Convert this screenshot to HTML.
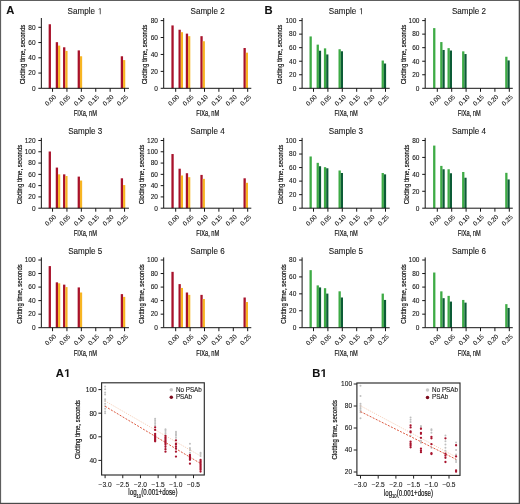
<!DOCTYPE html>
<html><head><meta charset="utf-8"><style>
html,body{margin:0;padding:0;background:#fff;}
#w{position:relative;width:520px;height:504px;overflow:hidden;background:#fff;}
svg{position:absolute;left:0;top:0;font-family:"Liberation Sans", sans-serif;filter:blur(0.3px);}
.cd{stroke:#151515;stroke-width:0.2px;}
text{stroke:#151515;stroke-width:0.1px;}
</style></head><body><div id="w">
<svg width="520" height="504" viewBox="0 0 520 504">
<rect x="0" y="0" width="520" height="504" fill="#fff"/>
<rect x="48.65" y="24.25" width="2.3" height="64.05" fill="#a8112a"/>
<rect x="55.75" y="42.17" width="2.3" height="46.13" fill="#a8112a"/>
<rect x="58.05" y="45.60" width="2.2" height="42.70" fill="#f7b523"/>
<rect x="63.05" y="47.28" width="2.3" height="41.02" fill="#a8112a"/>
<rect x="65.35" y="50.94" width="2.2" height="37.36" fill="#f7b523"/>
<rect x="77.65" y="50.40" width="2.3" height="37.90" fill="#a8112a"/>
<rect x="79.95" y="56.27" width="2.2" height="32.02" fill="#f7b523"/>
<rect x="120.75" y="56.27" width="2.3" height="32.02" fill="#a8112a"/>
<rect x="123.05" y="60.09" width="2.2" height="28.21" fill="#f7b523"/>
<path d="M41.35 18.00V88.30H128.95" fill="none" stroke="#151515" stroke-width="1"/>
<path d="M38.35 88.30H41.35" stroke="#151515" stroke-width="1"/>
<text x="35.55" y="90.60" text-anchor="end" font-size="6.5" fill="#151515">0</text>
<path d="M38.35 73.05H41.35" stroke="#151515" stroke-width="1"/>
<text x="35.55" y="75.35" text-anchor="end" font-size="6.5" fill="#151515">20</text>
<path d="M38.35 57.80H41.35" stroke="#151515" stroke-width="1"/>
<text x="35.55" y="60.10" text-anchor="end" font-size="6.5" fill="#151515">40</text>
<path d="M38.35 42.55H41.35" stroke="#151515" stroke-width="1"/>
<text x="35.55" y="44.85" text-anchor="end" font-size="6.5" fill="#151515">60</text>
<path d="M38.35 27.30H41.35" stroke="#151515" stroke-width="1"/>
<text x="35.55" y="29.60" text-anchor="end" font-size="6.5" fill="#151515">80</text>
<path d="M52.55 88.30V91.80" stroke="#151515" stroke-width="1"/>
<text transform="translate(54.85 96.00) rotate(-45)" text-anchor="end" font-size="6.4" fill="#151515" dy="2.2">0.00</text>
<path d="M66.95 88.30V91.80" stroke="#151515" stroke-width="1"/>
<text transform="translate(69.25 96.00) rotate(-45)" text-anchor="end" font-size="6.4" fill="#151515" dy="2.2">0.05</text>
<path d="M81.35 88.30V91.80" stroke="#151515" stroke-width="1"/>
<text transform="translate(83.65 96.00) rotate(-45)" text-anchor="end" font-size="6.4" fill="#151515" dy="2.2">0.10</text>
<path d="M95.75 88.30V91.80" stroke="#151515" stroke-width="1"/>
<text transform="translate(98.05 96.00) rotate(-45)" text-anchor="end" font-size="6.4" fill="#151515" dy="2.2">0.15</text>
<path d="M110.15 88.30V91.80" stroke="#151515" stroke-width="1"/>
<text transform="translate(112.45 96.00) rotate(-45)" text-anchor="end" font-size="6.4" fill="#151515" dy="2.2">0.20</text>
<path d="M124.55 88.30V91.80" stroke="#151515" stroke-width="1"/>
<text transform="translate(126.85 96.00) rotate(-45)" text-anchor="end" font-size="6.4" fill="#151515" dy="2.2">0.25</text>
<text transform="translate(67.55 14.20) scale(0.92 1)" font-size="8.8" fill="#151515">Sample </text><path d="M99.84 14.20L99.84 8.88L98.58 9.86L98.58 9.13L99.90 8.15L100.55 8.15L100.55 14.20Z" fill="#151515"/>
<text transform="translate(85.35 116.20) scale(0.67 1)" class="cd" text-anchor="middle" font-size="8.5" fill="#151515">FIXa, nM</text>
<text transform="translate(22.70 54.50) rotate(-90) scale(0.82 1)" class="cd" text-anchor="middle" dy="2.5" font-size="7.4" fill="#151515">Clotting time, seconds</text>
<rect x="171.40" y="25.42" width="2.3" height="62.88" fill="#a8112a"/>
<rect x="178.50" y="29.74" width="2.3" height="58.56" fill="#a8112a"/>
<rect x="180.80" y="32.19" width="2.2" height="56.11" fill="#f7b523"/>
<rect x="185.80" y="33.63" width="2.3" height="54.67" fill="#a8112a"/>
<rect x="188.10" y="36.17" width="2.2" height="52.13" fill="#f7b523"/>
<rect x="200.40" y="36.17" width="2.3" height="52.13" fill="#a8112a"/>
<rect x="202.70" y="41.25" width="2.2" height="47.05" fill="#f7b523"/>
<rect x="243.50" y="48.02" width="2.3" height="40.28" fill="#a8112a"/>
<rect x="245.80" y="52.67" width="2.2" height="35.63" fill="#f7b523"/>
<path d="M163.70 18.00V88.30H251.30" fill="none" stroke="#151515" stroke-width="1"/>
<path d="M160.70 88.30H163.70" stroke="#151515" stroke-width="1"/>
<text x="157.90" y="90.60" text-anchor="end" font-size="6.5" fill="#151515">0</text>
<path d="M160.70 71.38H163.70" stroke="#151515" stroke-width="1"/>
<text x="157.90" y="73.67" text-anchor="end" font-size="6.5" fill="#151515">20</text>
<path d="M160.70 54.45H163.70" stroke="#151515" stroke-width="1"/>
<text x="157.90" y="56.75" text-anchor="end" font-size="6.5" fill="#151515">40</text>
<path d="M160.70 37.52H163.70" stroke="#151515" stroke-width="1"/>
<text x="157.90" y="39.82" text-anchor="end" font-size="6.5" fill="#151515">60</text>
<path d="M160.70 20.60H163.70" stroke="#151515" stroke-width="1"/>
<text x="157.90" y="22.90" text-anchor="end" font-size="6.5" fill="#151515">80</text>
<path d="M175.70 88.30V91.80" stroke="#151515" stroke-width="1"/>
<text transform="translate(178.00 96.00) rotate(-45)" text-anchor="end" font-size="6.4" fill="#151515" dy="2.2">0.00</text>
<path d="M190.10 88.30V91.80" stroke="#151515" stroke-width="1"/>
<text transform="translate(192.40 96.00) rotate(-45)" text-anchor="end" font-size="6.4" fill="#151515" dy="2.2">0.05</text>
<path d="M204.50 88.30V91.80" stroke="#151515" stroke-width="1"/>
<text transform="translate(206.80 96.00) rotate(-45)" text-anchor="end" font-size="6.4" fill="#151515" dy="2.2">0.10</text>
<path d="M218.90 88.30V91.80" stroke="#151515" stroke-width="1"/>
<text transform="translate(221.20 96.00) rotate(-45)" text-anchor="end" font-size="6.4" fill="#151515" dy="2.2">0.15</text>
<path d="M233.30 88.30V91.80" stroke="#151515" stroke-width="1"/>
<text transform="translate(235.60 96.00) rotate(-45)" text-anchor="end" font-size="6.4" fill="#151515" dy="2.2">0.20</text>
<path d="M247.70 88.30V91.80" stroke="#151515" stroke-width="1"/>
<text transform="translate(250.00 96.00) rotate(-45)" text-anchor="end" font-size="6.4" fill="#151515" dy="2.2">0.25</text>
<text transform="translate(190.50 14.20) scale(0.92 1)" font-size="8.8" fill="#151515">Sample 2</text>
<text transform="translate(207.70 116.20) scale(0.67 1)" class="cd" text-anchor="middle" font-size="8.5" fill="#151515">FIXa, nM</text>
<text transform="translate(144.70 54.50) rotate(-90) scale(0.82 1)" class="cd" text-anchor="middle" dy="2.5" font-size="7.4" fill="#151515">Clotting time, seconds</text>
<rect x="48.65" y="151.50" width="2.3" height="56.70" fill="#a8112a"/>
<rect x="55.75" y="167.58" width="2.3" height="40.62" fill="#a8112a"/>
<rect x="58.05" y="174.35" width="2.2" height="33.85" fill="#f7b523"/>
<rect x="63.05" y="174.35" width="2.3" height="33.85" fill="#a8112a"/>
<rect x="65.35" y="176.04" width="2.2" height="32.16" fill="#f7b523"/>
<rect x="77.65" y="176.61" width="2.3" height="31.59" fill="#a8112a"/>
<rect x="79.95" y="180.56" width="2.2" height="27.64" fill="#f7b523"/>
<rect x="120.75" y="178.30" width="2.3" height="29.90" fill="#a8112a"/>
<rect x="123.05" y="185.07" width="2.2" height="23.13" fill="#f7b523"/>
<path d="M41.35 137.90V208.20H128.95" fill="none" stroke="#151515" stroke-width="1"/>
<path d="M38.35 208.20H41.35" stroke="#151515" stroke-width="1"/>
<text x="35.55" y="210.50" text-anchor="end" font-size="6.5" fill="#151515">0</text>
<path d="M38.35 196.92H41.35" stroke="#151515" stroke-width="1"/>
<text x="35.55" y="199.22" text-anchor="end" font-size="6.5" fill="#151515">20</text>
<path d="M38.35 185.63H41.35" stroke="#151515" stroke-width="1"/>
<text x="35.55" y="187.93" text-anchor="end" font-size="6.5" fill="#151515">40</text>
<path d="M38.35 174.35H41.35" stroke="#151515" stroke-width="1"/>
<text x="35.55" y="176.65" text-anchor="end" font-size="6.5" fill="#151515">60</text>
<path d="M38.35 163.07H41.35" stroke="#151515" stroke-width="1"/>
<text x="35.55" y="165.37" text-anchor="end" font-size="6.5" fill="#151515">80</text>
<path d="M38.35 151.78H41.35" stroke="#151515" stroke-width="1"/>
<text x="35.55" y="154.08" text-anchor="end" font-size="6.5" fill="#151515">100</text>
<path d="M38.35 140.50H41.35" stroke="#151515" stroke-width="1"/>
<text x="35.55" y="142.80" text-anchor="end" font-size="6.5" fill="#151515">120</text>
<path d="M52.55 208.20V211.70" stroke="#151515" stroke-width="1"/>
<text transform="translate(54.85 215.90) rotate(-45)" text-anchor="end" font-size="6.4" fill="#151515" dy="2.2">0.00</text>
<path d="M66.95 208.20V211.70" stroke="#151515" stroke-width="1"/>
<text transform="translate(69.25 215.90) rotate(-45)" text-anchor="end" font-size="6.4" fill="#151515" dy="2.2">0.05</text>
<path d="M81.35 208.20V211.70" stroke="#151515" stroke-width="1"/>
<text transform="translate(83.65 215.90) rotate(-45)" text-anchor="end" font-size="6.4" fill="#151515" dy="2.2">0.10</text>
<path d="M95.75 208.20V211.70" stroke="#151515" stroke-width="1"/>
<text transform="translate(98.05 215.90) rotate(-45)" text-anchor="end" font-size="6.4" fill="#151515" dy="2.2">0.15</text>
<path d="M110.15 208.20V211.70" stroke="#151515" stroke-width="1"/>
<text transform="translate(112.45 215.90) rotate(-45)" text-anchor="end" font-size="6.4" fill="#151515" dy="2.2">0.20</text>
<path d="M124.55 208.20V211.70" stroke="#151515" stroke-width="1"/>
<text transform="translate(126.85 215.90) rotate(-45)" text-anchor="end" font-size="6.4" fill="#151515" dy="2.2">0.25</text>
<text transform="translate(68.15 134.10) scale(0.92 1)" font-size="8.8" fill="#151515">Sample 3</text>
<text transform="translate(85.35 236.10) scale(0.67 1)" class="cd" text-anchor="middle" font-size="8.5" fill="#151515">FIXa, nM</text>
<text transform="translate(19.00 174.40) rotate(-90) scale(0.82 1)" class="cd" text-anchor="middle" dy="2.5" font-size="7.4" fill="#151515">Clotting time, seconds</text>
<rect x="171.40" y="154.04" width="2.3" height="54.16" fill="#a8112a"/>
<rect x="178.50" y="168.71" width="2.3" height="39.49" fill="#a8112a"/>
<rect x="180.80" y="175.48" width="2.2" height="32.72" fill="#f7b523"/>
<rect x="185.80" y="173.22" width="2.3" height="34.98" fill="#a8112a"/>
<rect x="188.10" y="177.17" width="2.2" height="31.03" fill="#f7b523"/>
<rect x="200.40" y="174.91" width="2.3" height="33.29" fill="#a8112a"/>
<rect x="202.70" y="178.86" width="2.2" height="29.34" fill="#f7b523"/>
<rect x="243.50" y="178.30" width="2.3" height="29.90" fill="#a8112a"/>
<rect x="245.80" y="182.81" width="2.2" height="25.39" fill="#f7b523"/>
<path d="M163.70 137.90V208.20H251.30" fill="none" stroke="#151515" stroke-width="1"/>
<path d="M160.70 208.20H163.70" stroke="#151515" stroke-width="1"/>
<text x="157.90" y="210.50" text-anchor="end" font-size="6.5" fill="#151515">0</text>
<path d="M160.70 196.92H163.70" stroke="#151515" stroke-width="1"/>
<text x="157.90" y="199.22" text-anchor="end" font-size="6.5" fill="#151515">20</text>
<path d="M160.70 185.63H163.70" stroke="#151515" stroke-width="1"/>
<text x="157.90" y="187.93" text-anchor="end" font-size="6.5" fill="#151515">40</text>
<path d="M160.70 174.35H163.70" stroke="#151515" stroke-width="1"/>
<text x="157.90" y="176.65" text-anchor="end" font-size="6.5" fill="#151515">60</text>
<path d="M160.70 163.07H163.70" stroke="#151515" stroke-width="1"/>
<text x="157.90" y="165.37" text-anchor="end" font-size="6.5" fill="#151515">80</text>
<path d="M160.70 151.78H163.70" stroke="#151515" stroke-width="1"/>
<text x="157.90" y="154.08" text-anchor="end" font-size="6.5" fill="#151515">100</text>
<path d="M160.70 140.50H163.70" stroke="#151515" stroke-width="1"/>
<text x="157.90" y="142.80" text-anchor="end" font-size="6.5" fill="#151515">120</text>
<path d="M175.70 208.20V211.70" stroke="#151515" stroke-width="1"/>
<text transform="translate(178.00 215.90) rotate(-45)" text-anchor="end" font-size="6.4" fill="#151515" dy="2.2">0.00</text>
<path d="M190.10 208.20V211.70" stroke="#151515" stroke-width="1"/>
<text transform="translate(192.40 215.90) rotate(-45)" text-anchor="end" font-size="6.4" fill="#151515" dy="2.2">0.05</text>
<path d="M204.50 208.20V211.70" stroke="#151515" stroke-width="1"/>
<text transform="translate(206.80 215.90) rotate(-45)" text-anchor="end" font-size="6.4" fill="#151515" dy="2.2">0.10</text>
<path d="M218.90 208.20V211.70" stroke="#151515" stroke-width="1"/>
<text transform="translate(221.20 215.90) rotate(-45)" text-anchor="end" font-size="6.4" fill="#151515" dy="2.2">0.15</text>
<path d="M233.30 208.20V211.70" stroke="#151515" stroke-width="1"/>
<text transform="translate(235.60 215.90) rotate(-45)" text-anchor="end" font-size="6.4" fill="#151515" dy="2.2">0.20</text>
<path d="M247.70 208.20V211.70" stroke="#151515" stroke-width="1"/>
<text transform="translate(250.00 215.90) rotate(-45)" text-anchor="end" font-size="6.4" fill="#151515" dy="2.2">0.25</text>
<text transform="translate(190.50 134.10) scale(0.92 1)" font-size="8.8" fill="#151515">Sample 4</text>
<text transform="translate(207.70 236.10) scale(0.67 1)" class="cd" text-anchor="middle" font-size="8.5" fill="#151515">FIXa, nM</text>
<text transform="translate(141.50 174.40) rotate(-90) scale(0.82 1)" class="cd" text-anchor="middle" dy="2.5" font-size="7.4" fill="#151515">Clotting time, seconds</text>
<rect x="48.65" y="266.09" width="2.3" height="61.61" fill="#a8112a"/>
<rect x="55.75" y="282.34" width="2.3" height="45.36" fill="#a8112a"/>
<rect x="58.05" y="283.29" width="2.2" height="44.41" fill="#f7b523"/>
<rect x="63.05" y="284.64" width="2.3" height="43.06" fill="#a8112a"/>
<rect x="65.35" y="287.08" width="2.2" height="40.62" fill="#f7b523"/>
<rect x="77.65" y="287.42" width="2.3" height="40.28" fill="#a8112a"/>
<rect x="79.95" y="292.50" width="2.2" height="35.20" fill="#f7b523"/>
<rect x="120.75" y="294.12" width="2.3" height="33.58" fill="#a8112a"/>
<rect x="123.05" y="296.90" width="2.2" height="30.80" fill="#f7b523"/>
<path d="M41.35 257.40V327.70H128.95" fill="none" stroke="#151515" stroke-width="1"/>
<path d="M38.35 327.70H41.35" stroke="#151515" stroke-width="1"/>
<text x="35.55" y="330.00" text-anchor="end" font-size="6.5" fill="#151515">0</text>
<path d="M38.35 314.16H41.35" stroke="#151515" stroke-width="1"/>
<text x="35.55" y="316.46" text-anchor="end" font-size="6.5" fill="#151515">20</text>
<path d="M38.35 300.62H41.35" stroke="#151515" stroke-width="1"/>
<text x="35.55" y="302.92" text-anchor="end" font-size="6.5" fill="#151515">40</text>
<path d="M38.35 287.08H41.35" stroke="#151515" stroke-width="1"/>
<text x="35.55" y="289.38" text-anchor="end" font-size="6.5" fill="#151515">60</text>
<path d="M38.35 273.54H41.35" stroke="#151515" stroke-width="1"/>
<text x="35.55" y="275.84" text-anchor="end" font-size="6.5" fill="#151515">80</text>
<path d="M38.35 260.00H41.35" stroke="#151515" stroke-width="1"/>
<text x="35.55" y="262.30" text-anchor="end" font-size="6.5" fill="#151515">100</text>
<path d="M52.55 327.70V331.20" stroke="#151515" stroke-width="1"/>
<text transform="translate(54.85 335.40) rotate(-45)" text-anchor="end" font-size="6.4" fill="#151515" dy="2.2">0.00</text>
<path d="M66.95 327.70V331.20" stroke="#151515" stroke-width="1"/>
<text transform="translate(69.25 335.40) rotate(-45)" text-anchor="end" font-size="6.4" fill="#151515" dy="2.2">0.05</text>
<path d="M81.35 327.70V331.20" stroke="#151515" stroke-width="1"/>
<text transform="translate(83.65 335.40) rotate(-45)" text-anchor="end" font-size="6.4" fill="#151515" dy="2.2">0.10</text>
<path d="M95.75 327.70V331.20" stroke="#151515" stroke-width="1"/>
<text transform="translate(98.05 335.40) rotate(-45)" text-anchor="end" font-size="6.4" fill="#151515" dy="2.2">0.15</text>
<path d="M110.15 327.70V331.20" stroke="#151515" stroke-width="1"/>
<text transform="translate(112.45 335.40) rotate(-45)" text-anchor="end" font-size="6.4" fill="#151515" dy="2.2">0.20</text>
<path d="M124.55 327.70V331.20" stroke="#151515" stroke-width="1"/>
<text transform="translate(126.85 335.40) rotate(-45)" text-anchor="end" font-size="6.4" fill="#151515" dy="2.2">0.25</text>
<text transform="translate(68.15 253.60) scale(0.92 1)" font-size="8.8" fill="#151515">Sample 5</text>
<text transform="translate(85.35 355.60) scale(0.67 1)" class="cd" text-anchor="middle" font-size="8.5" fill="#151515">FIXa, nM</text>
<text transform="translate(19.00 293.90) rotate(-90) scale(0.82 1)" class="cd" text-anchor="middle" dy="2.5" font-size="7.4" fill="#151515">Clotting time, seconds</text>
<rect x="171.40" y="271.85" width="2.3" height="55.85" fill="#a8112a"/>
<rect x="178.50" y="284.10" width="2.3" height="43.60" fill="#a8112a"/>
<rect x="180.80" y="287.96" width="2.2" height="39.74" fill="#f7b523"/>
<rect x="185.80" y="292.50" width="2.3" height="35.20" fill="#a8112a"/>
<rect x="188.10" y="294.87" width="2.2" height="32.83" fill="#f7b523"/>
<rect x="200.40" y="294.87" width="2.3" height="32.83" fill="#a8112a"/>
<rect x="202.70" y="299.00" width="2.2" height="28.70" fill="#f7b523"/>
<rect x="243.50" y="297.51" width="2.3" height="30.19" fill="#a8112a"/>
<rect x="245.80" y="302.04" width="2.2" height="25.66" fill="#f7b523"/>
<path d="M163.70 257.40V327.70H251.30" fill="none" stroke="#151515" stroke-width="1"/>
<path d="M160.70 327.70H163.70" stroke="#151515" stroke-width="1"/>
<text x="157.90" y="330.00" text-anchor="end" font-size="6.5" fill="#151515">0</text>
<path d="M160.70 314.16H163.70" stroke="#151515" stroke-width="1"/>
<text x="157.90" y="316.46" text-anchor="end" font-size="6.5" fill="#151515">20</text>
<path d="M160.70 300.62H163.70" stroke="#151515" stroke-width="1"/>
<text x="157.90" y="302.92" text-anchor="end" font-size="6.5" fill="#151515">40</text>
<path d="M160.70 287.08H163.70" stroke="#151515" stroke-width="1"/>
<text x="157.90" y="289.38" text-anchor="end" font-size="6.5" fill="#151515">60</text>
<path d="M160.70 273.54H163.70" stroke="#151515" stroke-width="1"/>
<text x="157.90" y="275.84" text-anchor="end" font-size="6.5" fill="#151515">80</text>
<path d="M160.70 260.00H163.70" stroke="#151515" stroke-width="1"/>
<text x="157.90" y="262.30" text-anchor="end" font-size="6.5" fill="#151515">100</text>
<path d="M175.70 327.70V331.20" stroke="#151515" stroke-width="1"/>
<text transform="translate(178.00 335.40) rotate(-45)" text-anchor="end" font-size="6.4" fill="#151515" dy="2.2">0.00</text>
<path d="M190.10 327.70V331.20" stroke="#151515" stroke-width="1"/>
<text transform="translate(192.40 335.40) rotate(-45)" text-anchor="end" font-size="6.4" fill="#151515" dy="2.2">0.05</text>
<path d="M204.50 327.70V331.20" stroke="#151515" stroke-width="1"/>
<text transform="translate(206.80 335.40) rotate(-45)" text-anchor="end" font-size="6.4" fill="#151515" dy="2.2">0.10</text>
<path d="M218.90 327.70V331.20" stroke="#151515" stroke-width="1"/>
<text transform="translate(221.20 335.40) rotate(-45)" text-anchor="end" font-size="6.4" fill="#151515" dy="2.2">0.15</text>
<path d="M233.30 327.70V331.20" stroke="#151515" stroke-width="1"/>
<text transform="translate(235.60 335.40) rotate(-45)" text-anchor="end" font-size="6.4" fill="#151515" dy="2.2">0.20</text>
<path d="M247.70 327.70V331.20" stroke="#151515" stroke-width="1"/>
<text transform="translate(250.00 335.40) rotate(-45)" text-anchor="end" font-size="6.4" fill="#151515" dy="2.2">0.25</text>
<text transform="translate(190.50 253.60) scale(0.92 1)" font-size="8.8" fill="#151515">Sample 6</text>
<text transform="translate(207.70 355.60) scale(0.67 1)" class="cd" text-anchor="middle" font-size="8.5" fill="#151515">FIXa, nM</text>
<text transform="translate(141.70 293.90) rotate(-90) scale(0.82 1)" class="cd" text-anchor="middle" dy="2.5" font-size="7.4" fill="#151515">Clotting time, seconds</text>
<rect x="309.50" y="36.44" width="2.3" height="51.86" fill="#3eab45"/>
<rect x="316.60" y="44.63" width="2.3" height="43.67" fill="#3eab45"/>
<rect x="318.90" y="50.73" width="2.2" height="37.57" fill="#0c5c36"/>
<rect x="323.90" y="48.36" width="2.3" height="39.94" fill="#3eab45"/>
<rect x="326.20" y="54.45" width="2.2" height="33.85" fill="#0c5c36"/>
<rect x="338.50" y="49.24" width="2.3" height="39.06" fill="#3eab45"/>
<rect x="340.80" y="51.27" width="2.2" height="37.03" fill="#0c5c36"/>
<rect x="381.60" y="60.54" width="2.3" height="27.76" fill="#3eab45"/>
<rect x="383.90" y="63.52" width="2.2" height="24.78" fill="#0c5c36"/>
<path d="M302.10 18.00V88.30H389.70" fill="none" stroke="#151515" stroke-width="1"/>
<path d="M299.10 88.30H302.10" stroke="#151515" stroke-width="1"/>
<text x="296.30" y="90.60" text-anchor="end" font-size="6.5" fill="#151515">0</text>
<path d="M299.10 74.76H302.10" stroke="#151515" stroke-width="1"/>
<text x="296.30" y="77.06" text-anchor="end" font-size="6.5" fill="#151515">20</text>
<path d="M299.10 61.22H302.10" stroke="#151515" stroke-width="1"/>
<text x="296.30" y="63.52" text-anchor="end" font-size="6.5" fill="#151515">40</text>
<path d="M299.10 47.68H302.10" stroke="#151515" stroke-width="1"/>
<text x="296.30" y="49.98" text-anchor="end" font-size="6.5" fill="#151515">60</text>
<path d="M299.10 34.14H302.10" stroke="#151515" stroke-width="1"/>
<text x="296.30" y="36.44" text-anchor="end" font-size="6.5" fill="#151515">80</text>
<path d="M299.10 20.60H302.10" stroke="#151515" stroke-width="1"/>
<text x="296.30" y="22.90" text-anchor="end" font-size="6.5" fill="#151515">100</text>
<path d="M313.50 88.30V91.80" stroke="#151515" stroke-width="1"/>
<text transform="translate(315.80 96.00) rotate(-45)" text-anchor="end" font-size="6.4" fill="#151515" dy="2.2">0.00</text>
<path d="M327.90 88.30V91.80" stroke="#151515" stroke-width="1"/>
<text transform="translate(330.20 96.00) rotate(-45)" text-anchor="end" font-size="6.4" fill="#151515" dy="2.2">0.05</text>
<path d="M342.30 88.30V91.80" stroke="#151515" stroke-width="1"/>
<text transform="translate(344.60 96.00) rotate(-45)" text-anchor="end" font-size="6.4" fill="#151515" dy="2.2">0.10</text>
<path d="M356.70 88.30V91.80" stroke="#151515" stroke-width="1"/>
<text transform="translate(359.00 96.00) rotate(-45)" text-anchor="end" font-size="6.4" fill="#151515" dy="2.2">0.15</text>
<path d="M371.10 88.30V91.80" stroke="#151515" stroke-width="1"/>
<text transform="translate(373.40 96.00) rotate(-45)" text-anchor="end" font-size="6.4" fill="#151515" dy="2.2">0.20</text>
<path d="M385.50 88.30V91.80" stroke="#151515" stroke-width="1"/>
<text transform="translate(387.80 96.00) rotate(-45)" text-anchor="end" font-size="6.4" fill="#151515" dy="2.2">0.25</text>
<text transform="translate(328.80 14.20) scale(0.92 1)" font-size="8.8" fill="#151515">Sample </text><path d="M361.09 14.20L361.09 8.88L359.83 9.86L359.83 9.13L361.15 8.15L361.80 8.15L361.80 14.20Z" fill="#151515"/>
<text transform="translate(346.10 116.20) scale(0.67 1)" class="cd" text-anchor="middle" font-size="8.5" fill="#151515">FIXa, nM</text>
<text transform="translate(279.90 54.50) rotate(-90) scale(0.82 1)" class="cd" text-anchor="middle" dy="2.5" font-size="7.4" fill="#151515">Clotting time, seconds</text>
<rect x="433.10" y="28.11" width="2.3" height="60.19" fill="#3eab45"/>
<rect x="440.20" y="42.06" width="2.3" height="46.24" fill="#3eab45"/>
<rect x="442.50" y="49.98" width="2.2" height="38.32" fill="#0c5c36"/>
<rect x="447.50" y="48.15" width="2.3" height="40.15" fill="#3eab45"/>
<rect x="449.80" y="50.52" width="2.2" height="37.78" fill="#0c5c36"/>
<rect x="462.10" y="51.34" width="2.3" height="36.96" fill="#3eab45"/>
<rect x="464.40" y="54.04" width="2.2" height="34.26" fill="#0c5c36"/>
<rect x="505.20" y="56.75" width="2.3" height="31.55" fill="#3eab45"/>
<rect x="507.50" y="60.41" width="2.2" height="27.89" fill="#0c5c36"/>
<path d="M425.20 18.00V88.30H512.80" fill="none" stroke="#151515" stroke-width="1"/>
<path d="M422.20 88.30H425.20" stroke="#151515" stroke-width="1"/>
<text x="419.40" y="90.60" text-anchor="end" font-size="6.5" fill="#151515">0</text>
<path d="M422.20 74.76H425.20" stroke="#151515" stroke-width="1"/>
<text x="419.40" y="77.06" text-anchor="end" font-size="6.5" fill="#151515">20</text>
<path d="M422.20 61.22H425.20" stroke="#151515" stroke-width="1"/>
<text x="419.40" y="63.52" text-anchor="end" font-size="6.5" fill="#151515">40</text>
<path d="M422.20 47.68H425.20" stroke="#151515" stroke-width="1"/>
<text x="419.40" y="49.98" text-anchor="end" font-size="6.5" fill="#151515">60</text>
<path d="M422.20 34.14H425.20" stroke="#151515" stroke-width="1"/>
<text x="419.40" y="36.44" text-anchor="end" font-size="6.5" fill="#151515">80</text>
<path d="M422.20 20.60H425.20" stroke="#151515" stroke-width="1"/>
<text x="419.40" y="22.90" text-anchor="end" font-size="6.5" fill="#151515">100</text>
<path d="M437.30 88.30V91.80" stroke="#151515" stroke-width="1"/>
<text transform="translate(439.60 96.00) rotate(-45)" text-anchor="end" font-size="6.4" fill="#151515" dy="2.2">0.00</text>
<path d="M451.70 88.30V91.80" stroke="#151515" stroke-width="1"/>
<text transform="translate(454.00 96.00) rotate(-45)" text-anchor="end" font-size="6.4" fill="#151515" dy="2.2">0.05</text>
<path d="M466.10 88.30V91.80" stroke="#151515" stroke-width="1"/>
<text transform="translate(468.40 96.00) rotate(-45)" text-anchor="end" font-size="6.4" fill="#151515" dy="2.2">0.10</text>
<path d="M480.50 88.30V91.80" stroke="#151515" stroke-width="1"/>
<text transform="translate(482.80 96.00) rotate(-45)" text-anchor="end" font-size="6.4" fill="#151515" dy="2.2">0.15</text>
<path d="M494.90 88.30V91.80" stroke="#151515" stroke-width="1"/>
<text transform="translate(497.20 96.00) rotate(-45)" text-anchor="end" font-size="6.4" fill="#151515" dy="2.2">0.20</text>
<path d="M509.30 88.30V91.80" stroke="#151515" stroke-width="1"/>
<text transform="translate(511.60 96.00) rotate(-45)" text-anchor="end" font-size="6.4" fill="#151515" dy="2.2">0.25</text>
<text transform="translate(451.90 14.20) scale(0.92 1)" font-size="8.8" fill="#151515">Sample 2</text>
<text transform="translate(469.20 116.20) scale(0.67 1)" class="cd" text-anchor="middle" font-size="8.5" fill="#151515">FIXa, nM</text>
<text transform="translate(403.50 54.50) rotate(-90) scale(0.82 1)" class="cd" text-anchor="middle" dy="2.5" font-size="7.4" fill="#151515">Clotting time, seconds</text>
<rect x="309.50" y="156.48" width="2.3" height="51.72" fill="#3eab45"/>
<rect x="316.60" y="162.84" width="2.3" height="45.36" fill="#3eab45"/>
<rect x="318.90" y="166.23" width="2.2" height="41.97" fill="#0c5c36"/>
<rect x="323.90" y="167.17" width="2.3" height="41.03" fill="#3eab45"/>
<rect x="326.20" y="168.26" width="2.2" height="39.94" fill="#0c5c36"/>
<rect x="338.50" y="170.49" width="2.3" height="37.71" fill="#3eab45"/>
<rect x="340.80" y="173.00" width="2.2" height="35.20" fill="#0c5c36"/>
<rect x="381.60" y="173.00" width="2.3" height="35.20" fill="#3eab45"/>
<rect x="383.90" y="174.35" width="2.2" height="33.85" fill="#0c5c36"/>
<path d="M302.10 137.90V208.20H389.70" fill="none" stroke="#151515" stroke-width="1"/>
<path d="M299.10 208.20H302.10" stroke="#151515" stroke-width="1"/>
<text x="296.30" y="210.50" text-anchor="end" font-size="6.5" fill="#151515">0</text>
<path d="M299.10 194.66H302.10" stroke="#151515" stroke-width="1"/>
<text x="296.30" y="196.96" text-anchor="end" font-size="6.5" fill="#151515">20</text>
<path d="M299.10 181.12H302.10" stroke="#151515" stroke-width="1"/>
<text x="296.30" y="183.42" text-anchor="end" font-size="6.5" fill="#151515">40</text>
<path d="M299.10 167.58H302.10" stroke="#151515" stroke-width="1"/>
<text x="296.30" y="169.88" text-anchor="end" font-size="6.5" fill="#151515">60</text>
<path d="M299.10 154.04H302.10" stroke="#151515" stroke-width="1"/>
<text x="296.30" y="156.34" text-anchor="end" font-size="6.5" fill="#151515">80</text>
<path d="M299.10 140.50H302.10" stroke="#151515" stroke-width="1"/>
<text x="296.30" y="142.80" text-anchor="end" font-size="6.5" fill="#151515">100</text>
<path d="M313.50 208.20V211.70" stroke="#151515" stroke-width="1"/>
<text transform="translate(315.80 215.90) rotate(-45)" text-anchor="end" font-size="6.4" fill="#151515" dy="2.2">0.00</text>
<path d="M327.90 208.20V211.70" stroke="#151515" stroke-width="1"/>
<text transform="translate(330.20 215.90) rotate(-45)" text-anchor="end" font-size="6.4" fill="#151515" dy="2.2">0.05</text>
<path d="M342.30 208.20V211.70" stroke="#151515" stroke-width="1"/>
<text transform="translate(344.60 215.90) rotate(-45)" text-anchor="end" font-size="6.4" fill="#151515" dy="2.2">0.10</text>
<path d="M356.70 208.20V211.70" stroke="#151515" stroke-width="1"/>
<text transform="translate(359.00 215.90) rotate(-45)" text-anchor="end" font-size="6.4" fill="#151515" dy="2.2">0.15</text>
<path d="M371.10 208.20V211.70" stroke="#151515" stroke-width="1"/>
<text transform="translate(373.40 215.90) rotate(-45)" text-anchor="end" font-size="6.4" fill="#151515" dy="2.2">0.20</text>
<path d="M385.50 208.20V211.70" stroke="#151515" stroke-width="1"/>
<text transform="translate(387.80 215.90) rotate(-45)" text-anchor="end" font-size="6.4" fill="#151515" dy="2.2">0.25</text>
<text transform="translate(328.80 134.10) scale(0.92 1)" font-size="8.8" fill="#151515">Sample 3</text>
<text transform="translate(346.10 236.10) scale(0.67 1)" class="cd" text-anchor="middle" font-size="8.5" fill="#151515">FIXa, nM</text>
<text transform="translate(280.00 174.40) rotate(-90) scale(0.82 1)" class="cd" text-anchor="middle" dy="2.5" font-size="7.4" fill="#151515">Clotting time, seconds</text>
<rect x="433.10" y="145.58" width="2.3" height="62.62" fill="#3eab45"/>
<rect x="440.20" y="165.89" width="2.3" height="42.31" fill="#3eab45"/>
<rect x="442.50" y="169.27" width="2.2" height="38.93" fill="#0c5c36"/>
<rect x="447.50" y="169.27" width="2.3" height="38.93" fill="#3eab45"/>
<rect x="449.80" y="173.25" width="2.2" height="34.95" fill="#0c5c36"/>
<rect x="462.10" y="171.98" width="2.3" height="36.22" fill="#3eab45"/>
<rect x="464.40" y="177.73" width="2.2" height="30.47" fill="#0c5c36"/>
<rect x="505.20" y="172.83" width="2.3" height="35.37" fill="#3eab45"/>
<rect x="507.50" y="179.43" width="2.2" height="28.77" fill="#0c5c36"/>
<path d="M425.20 137.90V208.20H512.80" fill="none" stroke="#151515" stroke-width="1"/>
<path d="M422.20 208.20H425.20" stroke="#151515" stroke-width="1"/>
<text x="419.40" y="210.50" text-anchor="end" font-size="6.5" fill="#151515">0</text>
<path d="M422.20 191.27H425.20" stroke="#151515" stroke-width="1"/>
<text x="419.40" y="193.57" text-anchor="end" font-size="6.5" fill="#151515">20</text>
<path d="M422.20 174.35H425.20" stroke="#151515" stroke-width="1"/>
<text x="419.40" y="176.65" text-anchor="end" font-size="6.5" fill="#151515">40</text>
<path d="M422.20 157.42H425.20" stroke="#151515" stroke-width="1"/>
<text x="419.40" y="159.72" text-anchor="end" font-size="6.5" fill="#151515">60</text>
<path d="M422.20 140.50H425.20" stroke="#151515" stroke-width="1"/>
<text x="419.40" y="142.80" text-anchor="end" font-size="6.5" fill="#151515">80</text>
<path d="M437.30 208.20V211.70" stroke="#151515" stroke-width="1"/>
<text transform="translate(439.60 215.90) rotate(-45)" text-anchor="end" font-size="6.4" fill="#151515" dy="2.2">0.00</text>
<path d="M451.70 208.20V211.70" stroke="#151515" stroke-width="1"/>
<text transform="translate(454.00 215.90) rotate(-45)" text-anchor="end" font-size="6.4" fill="#151515" dy="2.2">0.05</text>
<path d="M466.10 208.20V211.70" stroke="#151515" stroke-width="1"/>
<text transform="translate(468.40 215.90) rotate(-45)" text-anchor="end" font-size="6.4" fill="#151515" dy="2.2">0.10</text>
<path d="M480.50 208.20V211.70" stroke="#151515" stroke-width="1"/>
<text transform="translate(482.80 215.90) rotate(-45)" text-anchor="end" font-size="6.4" fill="#151515" dy="2.2">0.15</text>
<path d="M494.90 208.20V211.70" stroke="#151515" stroke-width="1"/>
<text transform="translate(497.20 215.90) rotate(-45)" text-anchor="end" font-size="6.4" fill="#151515" dy="2.2">0.20</text>
<path d="M509.30 208.20V211.70" stroke="#151515" stroke-width="1"/>
<text transform="translate(511.60 215.90) rotate(-45)" text-anchor="end" font-size="6.4" fill="#151515" dy="2.2">0.25</text>
<text transform="translate(451.90 134.10) scale(0.92 1)" font-size="8.8" fill="#151515">Sample 4</text>
<text transform="translate(469.20 236.10) scale(0.67 1)" class="cd" text-anchor="middle" font-size="8.5" fill="#151515">FIXa, nM</text>
<text transform="translate(406.30 174.40) rotate(-90) scale(0.82 1)" class="cd" text-anchor="middle" dy="2.5" font-size="7.4" fill="#151515">Clotting time, seconds</text>
<rect x="309.50" y="270.15" width="2.3" height="57.55" fill="#3eab45"/>
<rect x="316.60" y="285.39" width="2.3" height="42.31" fill="#3eab45"/>
<rect x="318.90" y="287.42" width="2.2" height="40.28" fill="#0c5c36"/>
<rect x="323.90" y="288.18" width="2.3" height="39.52" fill="#3eab45"/>
<rect x="326.20" y="293.60" width="2.2" height="34.10" fill="#0c5c36"/>
<rect x="338.50" y="291.31" width="2.3" height="36.39" fill="#3eab45"/>
<rect x="340.80" y="297.49" width="2.2" height="30.21" fill="#0c5c36"/>
<rect x="381.60" y="293.60" width="2.3" height="34.10" fill="#3eab45"/>
<rect x="383.90" y="299.94" width="2.2" height="27.76" fill="#0c5c36"/>
<path d="M302.10 257.40V327.70H389.70" fill="none" stroke="#151515" stroke-width="1"/>
<path d="M299.10 327.70H302.10" stroke="#151515" stroke-width="1"/>
<text x="296.30" y="330.00" text-anchor="end" font-size="6.5" fill="#151515">0</text>
<path d="M299.10 310.77H302.10" stroke="#151515" stroke-width="1"/>
<text x="296.30" y="313.07" text-anchor="end" font-size="6.5" fill="#151515">20</text>
<path d="M299.10 293.85H302.10" stroke="#151515" stroke-width="1"/>
<text x="296.30" y="296.15" text-anchor="end" font-size="6.5" fill="#151515">40</text>
<path d="M299.10 276.92H302.10" stroke="#151515" stroke-width="1"/>
<text x="296.30" y="279.22" text-anchor="end" font-size="6.5" fill="#151515">60</text>
<path d="M299.10 260.00H302.10" stroke="#151515" stroke-width="1"/>
<text x="296.30" y="262.30" text-anchor="end" font-size="6.5" fill="#151515">80</text>
<path d="M313.50 327.70V331.20" stroke="#151515" stroke-width="1"/>
<text transform="translate(315.80 335.40) rotate(-45)" text-anchor="end" font-size="6.4" fill="#151515" dy="2.2">0.00</text>
<path d="M327.90 327.70V331.20" stroke="#151515" stroke-width="1"/>
<text transform="translate(330.20 335.40) rotate(-45)" text-anchor="end" font-size="6.4" fill="#151515" dy="2.2">0.05</text>
<path d="M342.30 327.70V331.20" stroke="#151515" stroke-width="1"/>
<text transform="translate(344.60 335.40) rotate(-45)" text-anchor="end" font-size="6.4" fill="#151515" dy="2.2">0.10</text>
<path d="M356.70 327.70V331.20" stroke="#151515" stroke-width="1"/>
<text transform="translate(359.00 335.40) rotate(-45)" text-anchor="end" font-size="6.4" fill="#151515" dy="2.2">0.15</text>
<path d="M371.10 327.70V331.20" stroke="#151515" stroke-width="1"/>
<text transform="translate(373.40 335.40) rotate(-45)" text-anchor="end" font-size="6.4" fill="#151515" dy="2.2">0.20</text>
<path d="M385.50 327.70V331.20" stroke="#151515" stroke-width="1"/>
<text transform="translate(387.80 335.40) rotate(-45)" text-anchor="end" font-size="6.4" fill="#151515" dy="2.2">0.25</text>
<text transform="translate(328.80 253.60) scale(0.92 1)" font-size="8.8" fill="#151515">Sample 5</text>
<text transform="translate(346.10 355.60) scale(0.67 1)" class="cd" text-anchor="middle" font-size="8.5" fill="#151515">FIXa, nM</text>
<text transform="translate(283.10 293.90) rotate(-90) scale(0.82 1)" class="cd" text-anchor="middle" dy="2.5" font-size="7.4" fill="#151515">Clotting time, seconds</text>
<rect x="433.10" y="272.52" width="2.3" height="55.18" fill="#3eab45"/>
<rect x="440.20" y="291.35" width="2.3" height="36.35" fill="#3eab45"/>
<rect x="442.50" y="298.18" width="2.2" height="29.52" fill="#0c5c36"/>
<rect x="447.50" y="295.88" width="2.3" height="31.82" fill="#3eab45"/>
<rect x="449.80" y="301.57" width="2.2" height="26.13" fill="#0c5c36"/>
<rect x="462.10" y="299.94" width="2.3" height="27.76" fill="#3eab45"/>
<rect x="464.40" y="302.65" width="2.2" height="25.05" fill="#0c5c36"/>
<rect x="505.20" y="304.14" width="2.3" height="23.56" fill="#3eab45"/>
<rect x="507.50" y="307.93" width="2.2" height="19.77" fill="#0c5c36"/>
<path d="M425.20 257.40V327.70H512.80" fill="none" stroke="#151515" stroke-width="1"/>
<path d="M422.20 327.70H425.20" stroke="#151515" stroke-width="1"/>
<text x="419.40" y="330.00" text-anchor="end" font-size="6.5" fill="#151515">0</text>
<path d="M422.20 314.16H425.20" stroke="#151515" stroke-width="1"/>
<text x="419.40" y="316.46" text-anchor="end" font-size="6.5" fill="#151515">20</text>
<path d="M422.20 300.62H425.20" stroke="#151515" stroke-width="1"/>
<text x="419.40" y="302.92" text-anchor="end" font-size="6.5" fill="#151515">40</text>
<path d="M422.20 287.08H425.20" stroke="#151515" stroke-width="1"/>
<text x="419.40" y="289.38" text-anchor="end" font-size="6.5" fill="#151515">60</text>
<path d="M422.20 273.54H425.20" stroke="#151515" stroke-width="1"/>
<text x="419.40" y="275.84" text-anchor="end" font-size="6.5" fill="#151515">80</text>
<path d="M422.20 260.00H425.20" stroke="#151515" stroke-width="1"/>
<text x="419.40" y="262.30" text-anchor="end" font-size="6.5" fill="#151515">100</text>
<path d="M437.30 327.70V331.20" stroke="#151515" stroke-width="1"/>
<text transform="translate(439.60 335.40) rotate(-45)" text-anchor="end" font-size="6.4" fill="#151515" dy="2.2">0.00</text>
<path d="M451.70 327.70V331.20" stroke="#151515" stroke-width="1"/>
<text transform="translate(454.00 335.40) rotate(-45)" text-anchor="end" font-size="6.4" fill="#151515" dy="2.2">0.05</text>
<path d="M466.10 327.70V331.20" stroke="#151515" stroke-width="1"/>
<text transform="translate(468.40 335.40) rotate(-45)" text-anchor="end" font-size="6.4" fill="#151515" dy="2.2">0.10</text>
<path d="M480.50 327.70V331.20" stroke="#151515" stroke-width="1"/>
<text transform="translate(482.80 335.40) rotate(-45)" text-anchor="end" font-size="6.4" fill="#151515" dy="2.2">0.15</text>
<path d="M494.90 327.70V331.20" stroke="#151515" stroke-width="1"/>
<text transform="translate(497.20 335.40) rotate(-45)" text-anchor="end" font-size="6.4" fill="#151515" dy="2.2">0.20</text>
<path d="M509.30 327.70V331.20" stroke="#151515" stroke-width="1"/>
<text transform="translate(511.60 335.40) rotate(-45)" text-anchor="end" font-size="6.4" fill="#151515" dy="2.2">0.25</text>
<text transform="translate(451.90 253.60) scale(0.92 1)" font-size="8.8" fill="#151515">Sample 6</text>
<text transform="translate(469.20 355.60) scale(0.67 1)" class="cd" text-anchor="middle" font-size="8.5" fill="#151515">FIXa, nM</text>
<text transform="translate(403.50 293.90) rotate(-90) scale(0.82 1)" class="cd" text-anchor="middle" dy="2.5" font-size="7.4" fill="#151515">Clotting time, seconds</text>
<text x="6.3" y="14.3" font-size="11.2" font-weight="bold" fill="#111">A</text>
<text x="264.6" y="14.3" font-size="11.2" font-weight="bold" fill="#111">B</text>
<text x="55.80" y="377.00" font-size="11.2" font-weight="bold" fill="#111">A</text><path d="M66.87 377.00L66.87 370.60L64.93 371.76L64.93 370.55L66.98 369.29L68.45 369.29L68.45 377.00Z" fill="#111"/>
<text x="312.20" y="377.00" font-size="11.2" font-weight="bold" fill="#111">B</text><path d="M323.27 377.00L323.27 370.60L321.33 371.76L321.33 370.55L323.38 369.29L324.85 369.29L324.85 377.00Z" fill="#111"/>
<circle cx="105.10" cy="386.41" r="1.0" fill="#bfbfbf"/>
<circle cx="105.10" cy="389.36" r="1.0" fill="#bfbfbf"/>
<circle cx="105.10" cy="394.44" r="1.0" fill="#bfbfbf"/>
<circle cx="105.10" cy="399.28" r="1.0" fill="#bfbfbf"/>
<circle cx="105.10" cy="401.05" r="1.0" fill="#bfbfbf"/>
<circle cx="105.10" cy="403.76" r="1.0" fill="#bfbfbf"/>
<circle cx="105.10" cy="406.36" r="1.0" fill="#bfbfbf"/>
<circle cx="105.10" cy="408.83" r="1.0" fill="#bfbfbf"/>
<circle cx="105.10" cy="413.20" r="1.0" fill="#bfbfbf"/>
<circle cx="105.10" cy="411.43" r="1.0" fill="#bfbfbf"/>
<circle cx="105.10" cy="392.55" r="1.0" fill="#bfbfbf"/>
<circle cx="155.13" cy="418.63" r="1.0" fill="#bfbfbf"/>
<circle cx="155.13" cy="420.28" r="1.0" fill="#bfbfbf"/>
<circle cx="155.13" cy="422.05" r="1.0" fill="#bfbfbf"/>
<circle cx="155.13" cy="423.82" r="1.0" fill="#bfbfbf"/>
<circle cx="155.13" cy="425.59" r="1.0" fill="#bfbfbf"/>
<circle cx="165.48" cy="429.25" r="1.0" fill="#bfbfbf"/>
<circle cx="165.48" cy="430.31" r="1.0" fill="#bfbfbf"/>
<circle cx="165.48" cy="432.08" r="1.0" fill="#bfbfbf"/>
<circle cx="165.48" cy="433.85" r="1.0" fill="#bfbfbf"/>
<circle cx="175.97" cy="431.84" r="1.0" fill="#bfbfbf"/>
<circle cx="175.97" cy="433.02" r="1.0" fill="#bfbfbf"/>
<circle cx="175.97" cy="434.44" r="1.0" fill="#bfbfbf"/>
<circle cx="175.97" cy="435.86" r="1.0" fill="#bfbfbf"/>
<circle cx="175.97" cy="437.74" r="1.0" fill="#bfbfbf"/>
<circle cx="189.95" cy="443.64" r="1.0" fill="#bfbfbf"/>
<circle cx="189.95" cy="448.01" r="1.0" fill="#bfbfbf"/>
<circle cx="189.95" cy="449.19" r="1.0" fill="#bfbfbf"/>
<circle cx="189.95" cy="450.13" r="1.0" fill="#bfbfbf"/>
<circle cx="189.95" cy="452.85" r="1.0" fill="#bfbfbf"/>
<circle cx="200.57" cy="452.73" r="1.0" fill="#bfbfbf"/>
<circle cx="200.57" cy="454.03" r="1.0" fill="#bfbfbf"/>
<circle cx="200.57" cy="456.03" r="1.0" fill="#bfbfbf"/>
<path d="M105.10 401.00L200.57 456.00" stroke="#f4c4a8" stroke-width="0.8" stroke-dasharray="1.1 1.1" fill="none"/>
<path d="M105.10 406.30L200.57 463.50" stroke="#dd5a40" stroke-width="1.0" stroke-dasharray="2 1.4" fill="none"/>
<circle cx="155.13" cy="427.36" r="1.15" fill="#a8142e"/>
<circle cx="155.13" cy="429.96" r="1.15" fill="#a8142e"/>
<circle cx="155.13" cy="433.85" r="1.15" fill="#a8142e"/>
<circle cx="155.13" cy="435.03" r="1.15" fill="#a8142e"/>
<circle cx="155.13" cy="436.21" r="1.15" fill="#a8142e"/>
<circle cx="155.13" cy="437.27" r="1.15" fill="#a8142e"/>
<circle cx="155.13" cy="438.33" r="1.15" fill="#a8142e"/>
<circle cx="155.13" cy="439.40" r="1.15" fill="#a8142e"/>
<circle cx="155.13" cy="440.46" r="1.15" fill="#a8142e"/>
<circle cx="155.13" cy="441.28" r="1.15" fill="#a8142e"/>
<circle cx="165.48" cy="435.86" r="1.15" fill="#a8142e"/>
<circle cx="165.48" cy="437.39" r="1.15" fill="#a8142e"/>
<circle cx="165.48" cy="438.92" r="1.15" fill="#a8142e"/>
<circle cx="165.48" cy="440.34" r="1.15" fill="#a8142e"/>
<circle cx="165.48" cy="441.76" r="1.15" fill="#a8142e"/>
<circle cx="165.48" cy="443.17" r="1.15" fill="#a8142e"/>
<circle cx="165.48" cy="444.82" r="1.15" fill="#a8142e"/>
<circle cx="165.48" cy="446.83" r="1.15" fill="#a8142e"/>
<circle cx="165.48" cy="449.19" r="1.15" fill="#a8142e"/>
<circle cx="165.48" cy="451.67" r="1.15" fill="#a8142e"/>
<circle cx="175.97" cy="440.34" r="1.15" fill="#a8142e"/>
<circle cx="175.97" cy="443.64" r="1.15" fill="#a8142e"/>
<circle cx="175.97" cy="444.71" r="1.15" fill="#a8142e"/>
<circle cx="175.97" cy="446.83" r="1.15" fill="#a8142e"/>
<circle cx="175.97" cy="448.72" r="1.15" fill="#a8142e"/>
<circle cx="175.97" cy="451.67" r="1.15" fill="#a8142e"/>
<circle cx="175.97" cy="456.62" r="1.15" fill="#a8142e"/>
<circle cx="189.95" cy="454.97" r="1.15" fill="#a8142e"/>
<circle cx="189.95" cy="456.27" r="1.15" fill="#a8142e"/>
<circle cx="189.95" cy="457.69" r="1.15" fill="#a8142e"/>
<circle cx="189.95" cy="458.98" r="1.15" fill="#a8142e"/>
<circle cx="189.95" cy="459.81" r="1.15" fill="#a8142e"/>
<circle cx="189.95" cy="463.70" r="1.15" fill="#a8142e"/>
<circle cx="200.57" cy="459.93" r="1.15" fill="#a8142e"/>
<circle cx="200.57" cy="461.34" r="1.15" fill="#a8142e"/>
<circle cx="200.57" cy="462.76" r="1.15" fill="#a8142e"/>
<circle cx="200.57" cy="464.18" r="1.15" fill="#a8142e"/>
<circle cx="200.57" cy="465.59" r="1.15" fill="#a8142e"/>
<circle cx="200.57" cy="467.01" r="1.15" fill="#a8142e"/>
<circle cx="200.57" cy="468.42" r="1.15" fill="#a8142e"/>
<circle cx="200.57" cy="469.84" r="1.15" fill="#a8142e"/>
<circle cx="200.57" cy="471.61" r="1.15" fill="#a8142e"/>
<rect x="101.60" y="382.80" width="102.70" height="92.20" fill="none" stroke="#2a2a2a" stroke-width="1.15"/>
<path d="M98.40 460.40H101.60" stroke="#222" stroke-width="1"/>
<text x="96.80" y="462.70" text-anchor="end" font-size="6.6" fill="#151515">40</text>
<path d="M98.40 436.80H101.60" stroke="#222" stroke-width="1"/>
<text x="96.80" y="439.10" text-anchor="end" font-size="6.6" fill="#151515">60</text>
<path d="M98.40 413.20H101.60" stroke="#222" stroke-width="1"/>
<text x="96.80" y="415.50" text-anchor="end" font-size="6.6" fill="#151515">80</text>
<path d="M98.40 389.60H101.60" stroke="#222" stroke-width="1"/>
<text x="96.80" y="391.90" text-anchor="end" font-size="6.6" fill="#151515">100</text>
<path d="M105.10 475.00V478.20" stroke="#222" stroke-width="1"/>
<text x="105.10" y="487.00" text-anchor="middle" font-size="6.6" fill="#151515">−3.0</text>
<path d="M122.78 475.00V478.20" stroke="#222" stroke-width="1"/>
<text x="122.78" y="487.00" text-anchor="middle" font-size="6.6" fill="#151515">−2.5</text>
<path d="M140.46 475.00V478.20" stroke="#222" stroke-width="1"/>
<text x="140.46" y="487.00" text-anchor="middle" font-size="6.6" fill="#151515">−2.0</text>
<path d="M158.14 475.00V478.20" stroke="#222" stroke-width="1"/>
<text x="158.14" y="487.00" text-anchor="middle" font-size="6.6" fill="#151515">−1.5</text>
<path d="M175.82 475.00V478.20" stroke="#222" stroke-width="1"/>
<text x="175.82" y="487.00" text-anchor="middle" font-size="6.6" fill="#151515">−1.0</text>
<path d="M193.50 475.00V478.20" stroke="#222" stroke-width="1"/>
<text x="193.50" y="487.00" text-anchor="middle" font-size="6.6" fill="#151515">−0.5</text>
<text transform="translate(152.95 495.30) scale(0.74 1)" class="cd" text-anchor="middle" font-size="8.3" fill="#151515">log<tspan font-size="5.6" dy="2.2">10</tspan><tspan dy="-2.2">(0.001+dose)</tspan></text>
<text transform="translate(77.80 429.50) rotate(-90) scale(0.87 1)" class="cd" text-anchor="middle" dy="2.5" font-size="6.9" fill="#151515">Clotting time, seconds</text>
<circle cx="171.30" cy="389.80" r="1.75" fill="#c8c8c8"/>
<circle cx="171.30" cy="397.20" r="1.75" fill="#7d0a1c"/>
<text x="175.90" y="391.80" font-size="6.3" fill="#151515">No PSAb</text>
<text x="175.90" y="398.80" font-size="6.3" fill="#151515">PSAb</text>
<circle cx="360.50" cy="385.65" r="1.0" fill="#bfbfbf"/>
<circle cx="360.50" cy="395.99" r="1.0" fill="#bfbfbf"/>
<circle cx="360.50" cy="403.69" r="1.0" fill="#bfbfbf"/>
<circle cx="360.50" cy="405.45" r="1.0" fill="#bfbfbf"/>
<circle cx="360.50" cy="407.10" r="1.0" fill="#bfbfbf"/>
<circle cx="360.50" cy="408.86" r="1.0" fill="#bfbfbf"/>
<circle cx="360.50" cy="410.62" r="1.0" fill="#bfbfbf"/>
<circle cx="360.50" cy="412.27" r="1.0" fill="#bfbfbf"/>
<circle cx="360.50" cy="418.32" r="1.0" fill="#bfbfbf"/>
<circle cx="410.59" cy="417.44" r="1.0" fill="#bfbfbf"/>
<circle cx="410.59" cy="419.75" r="1.0" fill="#bfbfbf"/>
<circle cx="410.59" cy="421.95" r="1.0" fill="#bfbfbf"/>
<circle cx="410.59" cy="435.81" r="1.0" fill="#bfbfbf"/>
<circle cx="420.95" cy="426.02" r="1.0" fill="#bfbfbf"/>
<circle cx="420.95" cy="427.01" r="1.0" fill="#bfbfbf"/>
<circle cx="420.95" cy="440.76" r="1.0" fill="#bfbfbf"/>
<circle cx="420.95" cy="442.74" r="1.0" fill="#bfbfbf"/>
<circle cx="431.45" cy="429.32" r="1.0" fill="#bfbfbf"/>
<circle cx="431.45" cy="430.31" r="1.0" fill="#bfbfbf"/>
<circle cx="431.45" cy="432.84" r="1.0" fill="#bfbfbf"/>
<circle cx="431.45" cy="447.69" r="1.0" fill="#bfbfbf"/>
<circle cx="445.45" cy="435.59" r="1.0" fill="#bfbfbf"/>
<circle cx="445.45" cy="441.20" r="1.0" fill="#bfbfbf"/>
<circle cx="445.45" cy="444.50" r="1.0" fill="#bfbfbf"/>
<circle cx="445.45" cy="447.80" r="1.0" fill="#bfbfbf"/>
<circle cx="445.45" cy="450.77" r="1.0" fill="#bfbfbf"/>
<circle cx="456.07" cy="442.52" r="1.0" fill="#bfbfbf"/>
<circle cx="456.07" cy="450.00" r="1.0" fill="#bfbfbf"/>
<circle cx="456.07" cy="454.40" r="1.0" fill="#bfbfbf"/>
<circle cx="456.07" cy="459.90" r="1.0" fill="#bfbfbf"/>
<circle cx="456.07" cy="461.99" r="1.0" fill="#bfbfbf"/>
<path d="M360.50 405.80L456.08 457.00" stroke="#f4c4a8" stroke-width="0.8" stroke-dasharray="1.1 1.1" fill="none"/>
<path d="M360.50 411.60L456.08 459.30" stroke="#dd5a40" stroke-width="1.0" stroke-dasharray="2 1.4" fill="none"/>
<circle cx="410.59" cy="425.36" r="1.15" fill="#a8142e"/>
<circle cx="410.59" cy="427.45" r="1.15" fill="#a8142e"/>
<circle cx="410.59" cy="431.30" r="1.15" fill="#a8142e"/>
<circle cx="410.59" cy="432.29" r="1.15" fill="#a8142e"/>
<circle cx="410.59" cy="441.75" r="1.15" fill="#a8142e"/>
<circle cx="410.59" cy="443.73" r="1.15" fill="#a8142e"/>
<circle cx="410.59" cy="445.16" r="1.15" fill="#a8142e"/>
<circle cx="410.59" cy="447.25" r="1.15" fill="#a8142e"/>
<circle cx="420.95" cy="428.77" r="1.15" fill="#a8142e"/>
<circle cx="420.95" cy="432.84" r="1.15" fill="#a8142e"/>
<circle cx="420.95" cy="433.83" r="1.15" fill="#a8142e"/>
<circle cx="420.95" cy="437.79" r="1.15" fill="#a8142e"/>
<circle cx="420.95" cy="448.68" r="1.15" fill="#a8142e"/>
<circle cx="420.95" cy="450.55" r="1.15" fill="#a8142e"/>
<circle cx="420.95" cy="452.20" r="1.15" fill="#a8142e"/>
<circle cx="431.45" cy="436.80" r="1.15" fill="#a8142e"/>
<circle cx="431.45" cy="438.34" r="1.15" fill="#a8142e"/>
<circle cx="431.45" cy="444.17" r="1.15" fill="#a8142e"/>
<circle cx="431.45" cy="453.19" r="1.15" fill="#a8142e"/>
<circle cx="431.45" cy="454.07" r="1.15" fill="#a8142e"/>
<circle cx="445.45" cy="438.34" r="1.15" fill="#a8142e"/>
<circle cx="445.45" cy="453.63" r="1.15" fill="#a8142e"/>
<circle cx="445.45" cy="455.72" r="1.15" fill="#a8142e"/>
<circle cx="445.45" cy="457.81" r="1.15" fill="#a8142e"/>
<circle cx="445.45" cy="461.99" r="1.15" fill="#a8142e"/>
<circle cx="456.07" cy="445.27" r="1.15" fill="#a8142e"/>
<circle cx="456.07" cy="456.38" r="1.15" fill="#a8142e"/>
<circle cx="456.07" cy="470.35" r="1.15" fill="#a8142e"/>
<circle cx="456.07" cy="471.67" r="1.15" fill="#a8142e"/>
<rect x="356.90" y="383.00" width="103.10" height="92.40" fill="none" stroke="#2a2a2a" stroke-width="1.15"/>
<path d="M353.70 472.00H356.90" stroke="#222" stroke-width="1"/>
<text x="352.10" y="474.30" text-anchor="end" font-size="6.6" fill="#151515">20</text>
<path d="M353.70 450.00H356.90" stroke="#222" stroke-width="1"/>
<text x="352.10" y="452.30" text-anchor="end" font-size="6.6" fill="#151515">40</text>
<path d="M353.70 428.00H356.90" stroke="#222" stroke-width="1"/>
<text x="352.10" y="430.30" text-anchor="end" font-size="6.6" fill="#151515">60</text>
<path d="M353.70 406.00H356.90" stroke="#222" stroke-width="1"/>
<text x="352.10" y="408.30" text-anchor="end" font-size="6.6" fill="#151515">80</text>
<path d="M353.70 384.00H356.90" stroke="#222" stroke-width="1"/>
<text x="352.10" y="386.30" text-anchor="end" font-size="6.6" fill="#151515">100</text>
<path d="M360.50 475.40V478.60" stroke="#222" stroke-width="1"/>
<text x="360.50" y="487.40" text-anchor="middle" font-size="6.6" fill="#151515">−3.0</text>
<path d="M378.20 475.40V478.60" stroke="#222" stroke-width="1"/>
<text x="378.20" y="487.40" text-anchor="middle" font-size="6.6" fill="#151515">−2.5</text>
<path d="M395.90 475.40V478.60" stroke="#222" stroke-width="1"/>
<text x="395.90" y="487.40" text-anchor="middle" font-size="6.6" fill="#151515">−2.0</text>
<path d="M413.60 475.40V478.60" stroke="#222" stroke-width="1"/>
<text x="413.60" y="487.40" text-anchor="middle" font-size="6.6" fill="#151515">−1.5</text>
<path d="M431.30 475.40V478.60" stroke="#222" stroke-width="1"/>
<text x="431.30" y="487.40" text-anchor="middle" font-size="6.6" fill="#151515">−1.0</text>
<path d="M449.00 475.40V478.60" stroke="#222" stroke-width="1"/>
<text x="449.00" y="487.40" text-anchor="middle" font-size="6.6" fill="#151515">−0.5</text>
<text transform="translate(408.45 495.70) scale(0.74 1)" class="cd" text-anchor="middle" font-size="8.3" fill="#151515">log<tspan font-size="5.6" dy="2.2">10</tspan><tspan dy="-2.2">(0.001+dose)</tspan></text>
<text transform="translate(334.30 429.80) rotate(-90) scale(0.82 1)" class="cd" text-anchor="middle" dy="2.5" font-size="7.4" fill="#151515">Clotting time, seconds</text>
<circle cx="427.50" cy="390.00" r="1.75" fill="#c8c8c8"/>
<circle cx="427.50" cy="397.40" r="1.75" fill="#7d0a1c"/>
<text x="432.10" y="392.00" font-size="6.3" fill="#151515">No PSAb</text>
<text x="432.10" y="399.00" font-size="6.3" fill="#151515">PSAb</text>
<rect x="0" y="0" width="520" height="1" fill="#5e5e5e"/>
<rect x="0" y="0" width="1.1" height="504" fill="#5e5e5e"/>
<rect x="518.7" y="0" width="1.3" height="504" fill="#4a4a4a"/>
<rect x="0" y="502.8" width="520" height="1.2" fill="#4a4a4a"/>
</svg></div></body></html>
